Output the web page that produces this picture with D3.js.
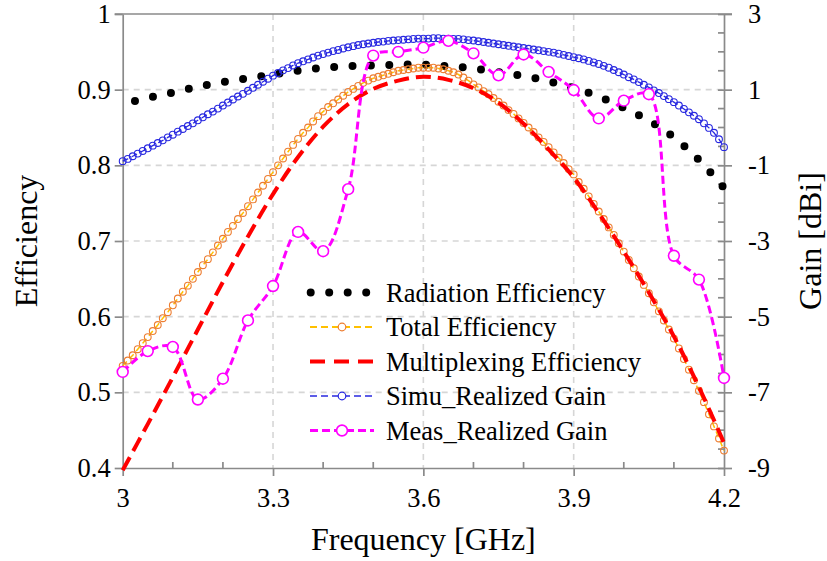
<!DOCTYPE html>
<html><head><meta charset="utf-8">
<script src="https://cdn.jsdelivr.net/npm/d3@7"></script>
<style>body{margin:0;background:#fff}svg{display:block}text{font-family:"Liberation Serif","Times New Roman",serif;fill:#000}</style>
</head><body><div id="chart"></div>
<script>
// ---- data ----
const freqFine = d3.range(0, 121).map(i => +(3 + i * 0.01).toFixed(2));
const freqCoarse = d3.range(0, 25).map(i => +(3 + i * 0.05).toFixed(2));

const radiationEff = [0.881,0.889,0.896,0.904,0.910,0.915,0.920,0.925,0.929,0.931,0.932,0.933,0.933,
  0.931,0.928,0.923,0.918,0.911,0.902,0.891,0.876,0.859,0.837,0.807,0.770];

const multiplexEff = [0.397,0.458,0.520,0.583,0.646,0.706,0.762,0.811,0.851,0.881,0.901,0.912,0.917,
  0.913,0.902,0.883,0.855,0.821,0.784,0.737,0.686,0.632,0.574,0.507,0.433];

const totalEff = [0.535,0.542,0.549,0.557,0.565,0.573,0.581,0.589,0.598,0.606,
  0.615,0.624,0.633,0.641,0.650,0.659,0.668,0.676,0.685,0.694,
  0.703,0.712,0.720,0.729,0.737,0.746,0.755,0.764,0.773,0.782,
  0.791,0.800,0.809,0.818,0.827,0.835,0.843,0.850,0.858,0.865,
  0.871,0.877,0.882,0.887,0.892,0.897,0.901,0.905,0.909,0.912,
  0.915,0.917,0.919,0.921,0.923,0.925,0.926,0.927,0.928,0.929,
  0.929,0.929,0.929,0.928,0.927,0.925,0.923,0.920,0.916,0.912,
  0.907,0.903,0.898,0.894,0.889,0.884,0.879,0.873,0.868,0.862,
  0.856,0.850,0.844,0.837,0.831,0.824,0.817,0.810,0.803,0.795,
  0.788,0.778,0.769,0.759,0.749,0.739,0.729,0.718,0.708,0.697,
  0.686,0.675,0.664,0.653,0.642,0.631,0.619,0.607,0.595,0.583,
  0.571,0.558,0.544,0.530,0.516,0.502,0.487,0.471,0.455,0.439,0.423];

const simuGain = [-0.89,-0.83,-0.76,-0.69,-0.62,-0.55,-0.48,-0.41,-0.34,-0.26,
  -0.19,-0.11,-0.04,0.04,0.11,0.19,0.27,0.35,0.42,0.50,
  0.58,0.66,0.74,0.82,0.89,0.97,1.05,1.13,1.21,1.29,
  1.37,1.44,1.51,1.57,1.64,1.70,1.75,1.80,1.85,1.90,
  1.94,1.98,2.02,2.05,2.09,2.12,2.15,2.18,2.20,2.22,
  2.24,2.26,2.27,2.29,2.30,2.31,2.32,2.33,2.34,2.35,
  2.35,2.35,2.36,2.36,2.35,2.35,2.34,2.34,2.33,2.31,
  2.30,2.28,2.26,2.24,2.22,2.20,2.18,2.16,2.14,2.12,
  2.10,2.08,2.06,2.04,2.02,2.00,1.98,1.95,1.92,1.89,
  1.86,1.83,1.80,1.76,1.72,1.68,1.63,1.58,1.52,1.46,
  1.40,1.33,1.27,1.20,1.13,1.06,0.98,0.91,0.83,0.75,
  0.67,0.58,0.49,0.40,0.31,0.22,0.11,-0.01,-0.14,-0.31,-0.52];

const measGain = [-6.46,-5.91,-5.80,-7.19,-6.64,-5.10,-4.19,-2.76,-3.27,-1.63,
  1.90,2.00,2.11,2.29,1.96,1.38,1.93,1.47,0.99,0.24,0.71,0.88,-3.39,-4.02,-6.62];

const xTicks = [3, 3.3, 3.6, 3.9, 4.2];
const xMinor = [3.1, 3.2, 3.4, 3.5, 3.7, 3.8, 4.0, 4.1];
const yLeftTicks = [0.4, 0.5, 0.6, 0.7, 0.8, 0.9, 1];
const yRightTicks = [-9, -7, -5, -3, -1, 1, 3];
const yRightMinor = d3.range(-9, 3.01, 0.5).filter(v => Math.abs(v % 2) !== 1);
const legendLabels = ["Radiation Efficiency", "Total Efficiency", "Multiplexing Efficiency",
  "Simu_Realized Gain", "Meas_Realized Gain"];

// ---- chart ----
const W = 827, H = 561;
const L = 122.7, R = 724, T = 14, B = 468;
const FS = 26.5, TFS = 32;
const axisColor = "#8a8a8a", gridColor = "#d6d6d6";
const svg = d3.select("#chart").append("svg").attr("width", W).attr("height", H);

const x = d3.scaleLinear().domain([3, 4.2]).range([L, R]);
const yL = d3.scaleLinear().domain([0.4, 1]).range([B, T]);
const yR = d3.scaleLinear().domain([-9, 3]).range([B, T]);

// gridlines
const grid = svg.append("g").attr("stroke", gridColor).attr("stroke-width", 1.6).attr("stroke-dasharray", "6 5");
yLeftTicks.filter(v => v > 0.45 && v < 0.95).forEach(v =>
  grid.append("line").attr("x1", L).attr("x2", R).attr("y1", yL(v)).attr("y2", yL(v)));
xTicks.filter(v => v > 3.05 && v < 4.15).forEach(v =>
  grid.append("line").attr("y1", T).attr("y2", B).attr("x1", x(v)).attr("x2", x(v)));

function styleAxis(g) {
  g.selectAll("path.domain").attr("stroke", axisColor).attr("stroke-width", 1.7);
  g.selectAll(".tick line").attr("stroke", axisColor).attr("stroke-width", 1.7);
  g.selectAll(".tick text").attr("font-family", "Liberation Serif").attr("font-size", FS).attr("fill", "#000");
}
const fmtL = d => d === 1 ? "1" : d.toFixed(1);
const gL = svg.append("g").attr("transform", `translate(${L},0)`)
  .call(d3.axisLeft(yL).tickValues(yLeftTicks).tickFormat(fmtL).tickSize(8).tickSizeOuter(0).tickPadding(4));
styleAxis(gL);
const gB = svg.append("g").attr("transform", `translate(0,${B})`)
  .call(d3.axisBottom(x).tickValues(xTicks).tickFormat(d => String(d)).tickSize(8).tickSizeOuter(0).tickPadding(12));
styleAxis(gB);
const gR = svg.append("g").attr("transform", `translate(${R},0)`)
  .call(d3.axisRight(yR).tickValues(yRightTicks).tickFormat(d => String(d)).tickSize(8).tickSizeOuter(0).tickPadding(16));
styleAxis(gR);
gR.selectAll(".tick text").attr("text-anchor", "start");
gR.selectAll(".tick line").attr("x1", -6);
const minorG = svg.append("g").attr("stroke", axisColor).attr("stroke-width", 1.7);
yRightMinor.forEach(v => minorG.append("line").attr("x1", R - 6).attr("x2", R).attr("y1", yR(v)).attr("y2", yR(v)));
xMinor.forEach(v => minorG.append("line").attr("x1", x(v)).attr("x2", x(v)).attr("y1", B - 6).attr("y2", B));
minorG.append("line").attr("x1", L - 8).attr("x2", R + 8).attr("y1", T).attr("y2", T);

// ---- series ----
const lineL = d3.line().x(d => x(d[0])).y(d => yL(d[1]));
const lineR = d3.line().x(d => x(d[0])).y(d => yR(d[1]));

// radiation efficiency: round-dot line, dots fitted along the curve
const radPath = svg.append("path").datum(d3.zip(freqCoarse, radiationEff))
  .attr("d", lineL.curve(d3.curveCatmullRom)).attr("fill", "none")
  .attr("stroke", "#000").attr("stroke-width", 8).attr("stroke-linecap", "round");
{
  const total = radPath.node().getTotalLength();
  const s0 = 12.7, s1 = total - 2.5;
  const n = Math.round((s1 - s0) / 18.6);
  const step = (s1 - s0) / n;
  radPath.attr("stroke-dasharray", `0 ${step}`).attr("stroke-dashoffset", step - s0);
}

// total efficiency
const totData = d3.zip(freqFine, totalEff);
svg.append("path").datum(totData).attr("d", lineL.curve(d3.curveLinear)).attr("fill", "none")
  .attr("stroke", "#FFC000").attr("stroke-width", 1.5).attr("stroke-dasharray", "6 4");
svg.append("g").selectAll("circle").data(totData).join("circle")
  .attr("cx", d => x(d[0])).attr("cy", d => yL(d[1])).attr("r", 3.4)
  .attr("fill", "none").attr("stroke", "#ED7D31").attr("stroke-width", 1.1);

// multiplexing efficiency
svg.append("path").datum(d3.zip(freqCoarse, multiplexEff))
  .attr("d", d3.line().x(d => x(d[0])).y(d => yL(d[1])).curve(d3.curveCatmullRom)).attr("fill", "none")
  .attr("stroke", "#FF0000").attr("stroke-width", 4).attr("stroke-dasharray", "15 7");

// simulated gain
const simData = d3.zip(freqFine, simuGain);
svg.append("path").datum(simData).attr("d", lineR.curve(d3.curveLinear)).attr("fill", "none")
  .attr("stroke", "#2828E0").attr("stroke-width", 1.3).attr("stroke-dasharray", "6 4");
svg.append("g").selectAll("circle").data(simData).join("circle")
  .attr("cx", d => x(d[0])).attr("cy", d => yR(d[1])).attr("r", 3.4)
  .attr("fill", "none").attr("stroke", "#2828E0").attr("stroke-width", 1.1);

// measured gain
const measData = d3.zip(freqCoarse, measGain);
svg.append("path").datum(measData)
  .attr("d", d3.line().x(d => x(d[0])).y(d => yR(d[1])).curve(d3.curveCatmullRom)).attr("fill", "none")
  .attr("stroke", "#FF00FF").attr("stroke-width", 3).attr("stroke-dasharray", "8 4");
svg.append("g").selectAll("circle").data(measData).join("circle")
  .attr("cx", d => x(d[0])).attr("cy", d => yR(d[1])).attr("r", 5.4)
  .attr("fill", "#fff").attr("stroke", "#FF00FF").attr("stroke-width", 1.6);

// ---- legend ----
const lg = svg.append("g");
const rowY = [292.5, 327, 361.5, 396, 430.5];
const sx0 = 310, sx1 = 374, sxm = 342;
lg.append("line").attr("x1", 310.7).attr("x2", 367).attr("y1", rowY[0]).attr("y2", rowY[0])
  .attr("stroke", "#000").attr("stroke-width", 8).attr("stroke-linecap", "round").attr("stroke-dasharray", "0 18.5");
lg.append("line").attr("x1", sx0).attr("x2", sx1).attr("y1", rowY[1]).attr("y2", rowY[1])
  .attr("stroke", "#FFC000").attr("stroke-width", 1.8).attr("stroke-dasharray", "7 4");
lg.append("circle").attr("cx", sxm).attr("cy", rowY[1]).attr("r", 3.8).attr("fill", "#fff").attr("stroke", "#ED7D31").attr("stroke-width", 1.2);
lg.append("line").attr("x1", sx0).attr("x2", sx1).attr("y1", rowY[2]).attr("y2", rowY[2])
  .attr("stroke", "#FF0000").attr("stroke-width", 4).attr("stroke-dasharray", "15 9");
lg.append("line").attr("x1", sx0).attr("x2", sx1).attr("y1", rowY[3]).attr("y2", rowY[3])
  .attr("stroke", "#2828E0").attr("stroke-width", 1.5).attr("stroke-dasharray", "7 4");
lg.append("circle").attr("cx", sxm).attr("cy", rowY[3]).attr("r", 3.8).attr("fill", "#fff").attr("stroke", "#2828E0").attr("stroke-width", 1.2);
lg.append("line").attr("x1", sx0).attr("x2", sx1).attr("y1", rowY[4]).attr("y2", rowY[4])
  .attr("stroke", "#FF00FF").attr("stroke-width", 3).attr("stroke-dasharray", "8 4");
lg.append("circle").attr("cx", sxm).attr("cy", rowY[4]).attr("r", 5.4).attr("fill", "#fff").attr("stroke", "#FF00FF").attr("stroke-width", 1.6);

legendLabels.forEach((t, i) => lg.append("text").attr("x", 386).attr("y", rowY[i]).attr("dy", "0.34em")
  .attr("font-size", FS).text(t));

// ---- axis titles ----
svg.append("text").attr("x", (L + R) / 2).attr("y", 550).attr("text-anchor", "middle").attr("font-size", TFS).text("Frequency [GHz]");
svg.append("text").attr("transform", `translate(37,${(T + B) / 2}) rotate(-90)`).attr("text-anchor", "middle").attr("font-size", TFS).text("Efficiency");
svg.append("text").attr("transform", `translate(821,${(T + B) / 2}) rotate(-90)`).attr("text-anchor", "middle").attr("font-size", TFS).text("Gain [dBi]");
</script></body></html>
